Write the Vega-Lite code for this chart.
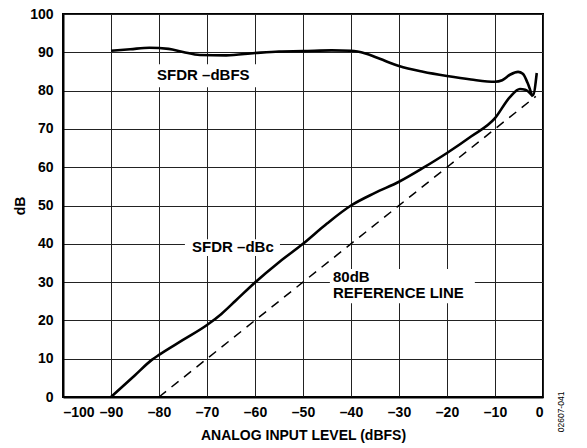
{
  "$schema": "https://vega.github.io/schema/vega-lite/v6.json",
  "width": 480,
  "height": 383,
  "autosize": {"type": "none"},
  "padding": {"left": 63, "top": 14, "right": 44, "bottom": 51},
  "background": "white",
  "config": {
    "view": {"stroke": "#000", "strokeWidth": 2},
    "font": "Liberation Sans",
    "axis": {
      "labelFont": "Liberation Sans",
      "labelFontWeight": "bold",
      "labelFontSize": 14,
      "labelColor": "#000",
      "labelOverlap": false,
      "titleFont": "Liberation Sans",
      "titleFontWeight": "bold",
      "titleFontSize": 14,
      "titleColor": "#000",
      "ticks": false,
      "grid": true,
      "gridColor": "#222",
      "gridWidth": 1,
      "gridOpacity": 1,
      "domain": true,
      "domainColor": "#000",
      "domainWidth": 2
    }
  },
  "datasets": {
    "curves": [
      {"series": "dBFS", "x": -90, "y": 90.4},
      {"series": "dBFS", "x": -86, "y": 90.8},
      {"series": "dBFS", "x": -82, "y": 91.2},
      {"series": "dBFS", "x": -78, "y": 90.9},
      {"series": "dBFS", "x": -75, "y": 90.1},
      {"series": "dBFS", "x": -71.5, "y": 89.3},
      {"series": "dBFS", "x": -66, "y": 89.2},
      {"series": "dBFS", "x": -60, "y": 89.8},
      {"series": "dBFS", "x": -55, "y": 90.2},
      {"series": "dBFS", "x": -50, "y": 90.3},
      {"series": "dBFS", "x": -44, "y": 90.5},
      {"series": "dBFS", "x": -40, "y": 90.4},
      {"series": "dBFS", "x": -37, "y": 89.7},
      {"series": "dBFS", "x": -34, "y": 88.3},
      {"series": "dBFS", "x": -30, "y": 86.4},
      {"series": "dBFS", "x": -25, "y": 84.9},
      {"series": "dBFS", "x": -20, "y": 83.8},
      {"series": "dBFS", "x": -15, "y": 82.9},
      {"series": "dBFS", "x": -10, "y": 82.3},
      {"series": "dBFS", "x": -8.5, "y": 82.7},
      {"series": "dBFS", "x": -6.8, "y": 84.2},
      {"series": "dBFS", "x": -5.2, "y": 84.9},
      {"series": "dBFS", "x": -4.2, "y": 84.4},
      {"series": "dBFS", "x": -3.2, "y": 82.0},
      {"series": "dBFS", "x": -2.1, "y": 78.8},
      {"series": "dBFS", "x": -1.3, "y": 84.6},
      {"series": "dBc", "x": -90, "y": 0},
      {"series": "dBc", "x": -85, "y": 5.7},
      {"series": "dBc", "x": -81.5, "y": 9.7},
      {"series": "dBc", "x": -80, "y": 11},
      {"series": "dBc", "x": -75, "y": 14.9},
      {"series": "dBc", "x": -70, "y": 18.8},
      {"series": "dBc", "x": -67, "y": 21.7},
      {"series": "dBc", "x": -64, "y": 25.2},
      {"series": "dBc", "x": -60, "y": 29.9},
      {"series": "dBc", "x": -55, "y": 35.2},
      {"series": "dBc", "x": -50, "y": 40},
      {"series": "dBc", "x": -45, "y": 45.3},
      {"series": "dBc", "x": -40, "y": 50},
      {"series": "dBc", "x": -35, "y": 53.3},
      {"series": "dBc", "x": -30, "y": 56.2},
      {"series": "dBc", "x": -25, "y": 59.8},
      {"series": "dBc", "x": -20, "y": 63.7},
      {"series": "dBc", "x": -15, "y": 68},
      {"series": "dBc", "x": -10, "y": 72.8},
      {"series": "dBc", "x": -6.9, "y": 78.3},
      {"series": "dBc", "x": -4.8, "y": 80.4},
      {"series": "dBc", "x": -3.7, "y": 80.2},
      {"series": "dBc", "x": -2.1, "y": 78.5}
    ],
    "reference": [
      {"x": -80, "y": 0},
      {"x": -1.5, "y": 78.5}
    ],
    "boxes": [
      {"x": -80.6, "x2": -59.0, "y": 80.9, "y2": 86.9},
      {"x": -74.6, "x2": -54.8, "y": 36.8, "y2": 41.2},
      {"x": -44.4, "x2": -14.2, "y": 24.5, "y2": 33.4}
    ],
    "labels": [
      {"x": -80.4, "y": 84.1, "text": "SFDR –dBFS"},
      {"x": -73.1, "y": 39.2, "text": "SFDR –dBc"},
      {"x": -43.75, "y": 31.3, "text": "80dB"},
      {"x": -43.75, "y": 27.2, "text": "REFERENCE LINE"}
    ],
    "note": [
      {"x": 3.8, "y": -3.9, "text": "02607-041"}
    ]
  },
  "encoding": {
    "x": {
      "field": "x", "type": "quantitative",
      "scale": {"domain": [-100, 0], "nice": false, "zero": false},
      "axis": {
        "values": [-100, -90, -80, -70, -60, -50, -40, -30, -20, -10, 0],
        "labelExpr": "datum.value < 0 ? '–' + abs(datum.value) : '' + datum.value",
        "labelPadding": 8,
        "labelDx": -3,
        "title": "ANALOG INPUT LEVEL (dBFS)",
        "titlePadding": 9
      }
    },
    "y": {
      "field": "y", "type": "quantitative",
      "scale": {"domain": [0, 100], "nice": false},
      "axis": {
        "values": [0, 10, 20, 30, 40, 50, 60, 70, 80, 90, 100],
        "labelPadding": 10,
        "title": "dB",
        "titlePadding": 2
      }
    }
  },
  "layer": [
    {
      "data": {"name": "reference"},
      "mark": {"type": "line", "color": "#000", "strokeWidth": 1.5, "strokeDash": [9, 7]}
    },
    {
      "data": {"name": "curves"},
      "mark": {"type": "line", "color": "#000", "strokeWidth": 2.6, "interpolate": "monotone"},
      "encoding": {
        "detail": {"field": "series"}
      }
    },
    {
      "data": {"name": "boxes"},
      "mark": {"type": "rect", "fill": "white"},
      "encoding": {
        "x2": {"field": "x2"},
        "y2": {"field": "y2"}
      }
    },
    {
      "data": {"name": "labels"},
      "mark": {"type": "text", "align": "left", "baseline": "middle", "font": "Liberation Sans", "fontWeight": "bold", "fontSize": 15, "color": "#000"},
      "encoding": {
        "text": {"field": "text"}
      }
    },
    {
      "data": {"name": "note"},
      "mark": {"type": "text", "align": "center", "baseline": "middle", "angle": 270, "font": "Liberation Sans", "fontSize": 8.5, "color": "#000", "clip": false},
      "encoding": {
        "text": {"field": "text"}
      }
    }
  ]
}
